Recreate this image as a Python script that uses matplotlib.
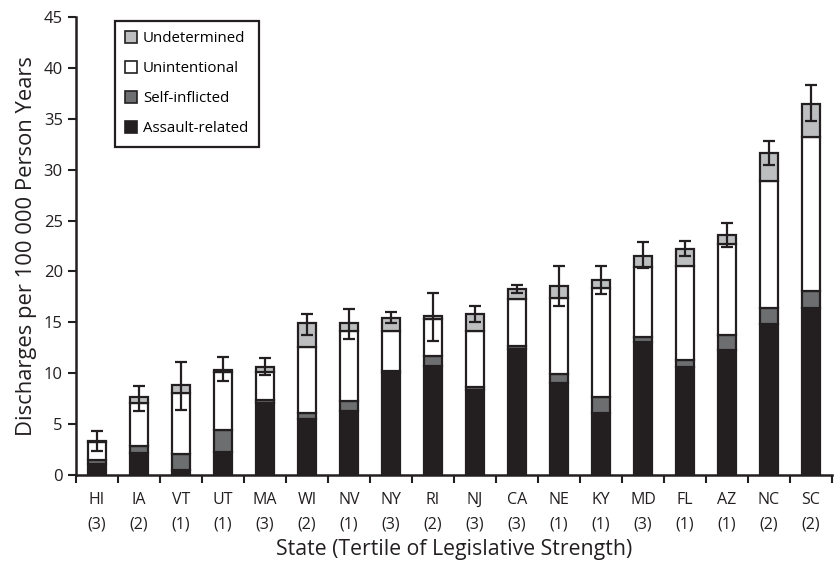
import numpy as np
import matplotlib
matplotlib.use("Agg")
import matplotlib.pyplot as plt
from matplotlib.patches import Patch

plt.rcParams['font.family'] = ['Open Sans', 'DejaVu Sans']

# 各州及其立法强度三分位
states = ["HI", "IA", "VT", "UT", "MA", "WI", "NV", "NY", "RI", "NJ",
          "CA", "NE", "KY", "MD", "FL", "AZ", "NC", "SC"]
tertiles = [3, 2, 1, 1, 3, 2, 1, 3, 2, 3, 3, 1, 1, 3, 1, 1, 2, 2]

# 每 100 000 人年出院率（按意图分层）
assault = [1.1, 2.2, 0.5, 2.25, 7.1, 5.5, 6.3, 10.0, 10.7, 8.4,
           12.4, 9.0, 6.1, 13.1, 10.6, 12.3, 14.8, 16.45]
self_inflicted = [0.4, 0.6, 1.6, 2.15, 0.3, 0.6, 1.0, 0.25, 1.0, 0.2,
                  0.3, 0.9, 1.6, 0.5, 0.7, 1.5, 1.65, 1.65]
unintentional = [1.7, 4.3, 6.0, 5.7, 2.7, 6.5, 6.85, 3.85, 3.65, 5.55,
                 4.6, 7.5, 10.65, 6.8, 9.2, 8.9, 12.45, 15.1]
undetermined = [0.1, 0.55, 0.75, 0.25, 0.55, 2.3, 0.75, 1.3, 0.25, 1.65,
                1.0, 1.2, 0.8, 1.15, 1.75, 0.9, 2.7, 3.3]
# 总率的 95% 置信区间
ci_low = [2.4, 6.25, 6.35, 9.2, 9.85, 13.8, 13.4, 14.95, 13.2, 15.0,
          17.85, 16.65, 17.8, 20.3, 21.5, 22.4, 30.5, 34.8]
ci_high = [4.35, 8.7, 11.15, 11.6, 11.45, 15.8, 16.3, 16.05, 17.85, 16.65,
           18.7, 20.5, 20.5, 22.85, 23.0, 24.8, 32.85, 38.3]

colors = {"Assault-related": "#231f20", "Self-inflicted": "#6d6e70",
          "Unintentional": "#ffffff", "Undetermined": "#bcbec0"}

fig = plt.figure(figsize=(8.38, 5.65), dpi=100)
ax = fig.add_axes([0.0907, 0.1593, 0.9021, 0.8106])

x = np.arange(len(states))
width = 0.45
edge = "#231f20"
bottom = np.zeros(len(states))
layers = [("Assault-related", assault), ("Self-inflicted", self_inflicted),
          ("Unintentional", unintentional), ("Undetermined", undetermined)]
for name, vals in layers:
    vals = np.array(vals)
    ax.bar(x, vals, width, bottom=bottom, color=colors[name],
           edgecolor=edge, linewidth=1.6, zorder=2)
    bottom += vals

total = bottom
yerr = [total - np.array(ci_low), np.array(ci_high) - total]
ax.errorbar(x, total, yerr=yerr, fmt="none", ecolor=edge, elinewidth=1.6,
            capsize=4.5, capthick=1.6, zorder=3)

ax.set_xlim(-0.5, len(states) - 0.5)
ax.set_ylim(0, 45)
ax.set_yticks(np.arange(0, 46, 5))
ax.set_xticks(x)
ax.set_xticklabels([f"{s}\n({t})" for s, t in zip(states, tertiles)],
                   linespacing=1.7)
ax.set_xticks(np.arange(-0.5, len(states)), minor=True)
ax.tick_params(axis="x", which="major", length=0, pad=12, labelsize=11.5,
               colors="#231f20")
ax.tick_params(axis="x", which="minor", length=6, width=1.5, color=edge,
               direction="out")
ax.tick_params(axis="y", length=6, width=1.5, color=edge, labelsize=12,
               colors="#231f20")

for side in ["top", "right"]:
    ax.spines[side].set_visible(False)
for side in ["left", "bottom"]:
    ax.spines[side].set_linewidth(1.8)
    ax.spines[side].set_color(edge)

ax.set_ylabel("Discharges per 100 000 Person Years", fontsize=15.8,
              color="#231f20", labelpad=5)
ax.set_xlabel("State (Tertile of Legislative Strength)", fontsize=15.3,
              color="#231f20", labelpad=5)

handles = [Patch(facecolor=colors[n], edgecolor=edge, linewidth=1.2, label=n)
           for n in ["Undetermined", "Unintentional", "Self-inflicted",
                     "Assault-related"]]
leg = ax.legend(handles=handles, loc="upper left",
                bbox_to_anchor=(0.041, 1.008), fontsize=10.8,
                handlelength=0.8, handleheight=0.8, handletextpad=0.4,
                labelspacing=1.0, borderpad=0.7, fancybox=False,
                edgecolor=edge, framealpha=1)
leg.get_frame().set_linewidth(1.6)

fig.savefig("out.png", dpi=100)
